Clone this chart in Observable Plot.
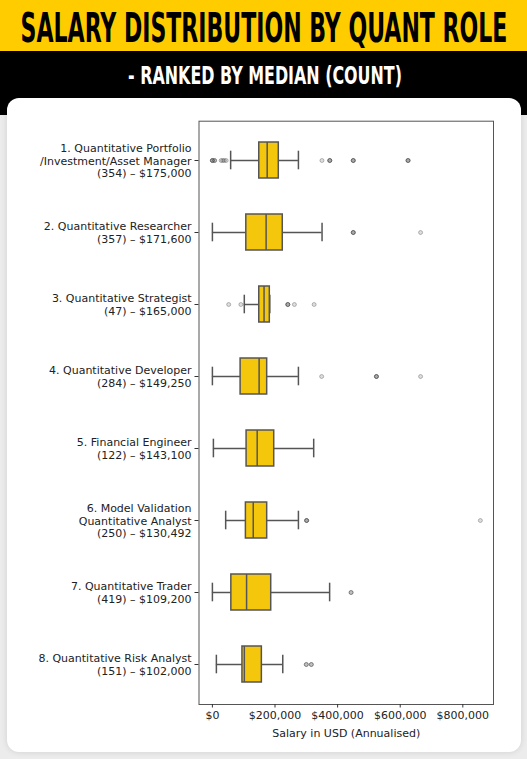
<!DOCTYPE html>
<html>
<head>
<meta charset="utf-8">
<script src="https://cdn.jsdelivr.net/npm/d3@7"></script>
<script src="https://cdn.jsdelivr.net/npm/@observablehq/plot@0.6"></script>
<style>
  html, body { margin: 0; padding: 0; }
  body { width: 527px; height: 759px; overflow: hidden; position: relative; background: #ececec; }
  #yellow { position: absolute; left: 0; top: 0; width: 527px; height: 51px; background: #ffcc00; }
  #black { position: absolute; left: 0; top: 51px; width: 527px; height: 64px; background: #000; }
  #card { position: absolute; left: 7px; top: 98px; width: 514px; height: 654px; background: #fff; border-radius: 12px; box-shadow: 0 0 6px rgba(0,0,0,0.12); }
  #titles { position: absolute; left: 0; top: 0; }
  #chart { position: absolute; left: 0; top: 98px; }
  .ttl { font-family: 'DejaVu Sans Condensed', 'DejaVu Sans', sans-serif; font-weight: bold; font-size: 20px; }
</style>
</head>
<body>
<div id="yellow"></div>
<div id="black"></div>
<div id="card"></div>
<svg id="titles" width="527" height="98" xmlns="http://www.w3.org/2000/svg">
  <text id="title" class="ttl" x="0" y="0" text-anchor="middle" style="fill:#000;">SALARY DISTRIBUTION BY QUANT ROLE</text>
  <text id="subtitle" class="ttl" x="0" y="0" text-anchor="middle" style="fill:#fff;">- RANKED BY MEDIAN (COUNT)</text>
</svg>
<div id="chart"></div>
<script>
// ---- data ----
const roles = [
  "Quantitative Portfolio\n/Investment/Asset Manager",
  "Quantitative Researcher",
  "Quantitative Strategist",
  "Quantitative Developer",
  "Financial Engineer",
  "Model Validation\nQuantitative Analyst",
  "Quantitative Trader",
  "Quantitative Risk Analyst"
];
const counts = [354, 357, 47, 284, 122, 250, 419, 151];
const medianLabels = ["$175,000", "$171,600", "$165,000", "$149,250", "$143,100", "$130,492", "$109,200", "$102,000"];
const whiskerLow  = [58300, 0, 101900, 0, 3200, 42400, 0, 12700];
const q1          = [149700, 108300, 149700, 90100, 109200, 107000, 60500, 96000];
const medians     = [175000, 171600, 165000, 149250, 143100, 130492, 109200, 102000];
const q3          = [212100, 224800, 183400, 175000, 197500, 175000, 187900, 158000];
const whiskerHigh = [274800, 350300, 183400, 274800, 323600, 274800, 374500, 224800];
const outliers = [
  [0, 0, 0, 7000, 7000, 28000, 33000, 38000, 44000, 350000, 375000, 375000, 375000, 450000, 450000, 450000, 625000, 625000, 625000],
  [450000, 450000, 450000, 665000],
  [52000, 91000, 241000, 241000, 241000, 262000, 325000],
  [349000, 524000, 524000, 524000, 665000],
  [],
  [301000, 301000, 301000, 856000],
  [443000, 443000],
  [300000, 300000, 316000, 316000]
];
const xTicks = [0, 200000, 400000, 600000, 800000];
const xLabel = "Salary in USD (Annualised)";

// ---- header text fitted to the reference's box ----
function fit(id, cx, baseline, targetW, capH) {
  const el = document.getElementById(id);
  const w = el.getComputedTextLength();
  const sx = targetW / w;
  const sy = capH / (0.729 * 20);
  el.setAttribute("transform", `translate(${cx},${baseline}) scale(${sx},${sy})`);
}
fit("title", 264, 42, 487, 30);
fit("subtitle", 265, 83.5, 274, 18);

// ---- tables built from the arrays ----
const labels = roles.map((r, i) => `${i + 1}. ${r}\n(${counts[i]}) – ${medianLabels[i]}`);
const boxes = labels.map((label, i) => ({
  label, lo: whiskerLow[i], q1: q1[i], med: medians[i], q3: q3[i], hi: whiskerHigh[i]
}));
const fliers = outliers.flatMap((vals, i) => vals.map(v => ({label: labels[i], value: v})));

const boxFill = "#f5c70c";
const lineColor = "#555555";
const fmt = d3.format("$,");

const chart = Plot.plot({
  width: 527,
  height: 654,
  marginLeft: 198.5,
  marginRight: 34,
  marginTop: 22.7,
  marginBottom: 48,
  style: {fontFamily: "'DejaVu Sans', sans-serif", fontSize: "11px", color: "#222", background: "transparent"},
  x: {domain: [-42800, 898000]},
  y: {domain: labels, paddingInner: 0.5, paddingOuter: 0.25},
  marks: [
    Plot.ruleY(boxes, {y: "label", x1: "lo", x2: "q1", stroke: lineColor, strokeWidth: 1.5}),
    Plot.ruleY(boxes, {y: "label", x1: "q3", x2: "hi", stroke: lineColor, strokeWidth: 1.5}),
    Plot.tickX(boxes, {x: "lo", y: "label", stroke: lineColor, strokeWidth: 1.5, insetTop: 8.7, insetBottom: 8.7}),
    Plot.tickX(boxes, {x: "hi", y: "label", stroke: lineColor, strokeWidth: 1.5, insetTop: 8.7, insetBottom: 8.7}),
    Plot.barX(boxes, {x1: "q1", x2: "q3", y: "label", fill: boxFill, stroke: lineColor, strokeWidth: 1.5}),
    Plot.tickX(boxes, {x: "med", y: "label", stroke: lineColor, strokeWidth: 1.5}),
    Plot.dot(fliers, {x: "value", y: "label", r: 2, fill: "#555", fillOpacity: 0.2, stroke: "#444", strokeOpacity: 0.35, strokeWidth: 1}),
    Plot.frame({stroke: "#555", strokeWidth: 1}),
    Plot.axisY({tickSize: 4, tickPadding: 3.5, lineHeight: 1.16, stroke: "#333", fill: "#222", fontSize: 11, label: null}),
    Plot.axisX({ticks: xTicks, tickFormat: fmt, tickSize: 3.5, tickPadding: 3, stroke: "#333", fill: "#222", fontSize: 11, label: null}),
    Plot.text([xLabel], {frameAnchor: "bottom", dy: 28.7, lineAnchor: "middle", text: d => d, fill: "#222", fontSize: 11})
  ]
});
document.getElementById("chart").appendChild(chart);
</script>
</body>
</html>
